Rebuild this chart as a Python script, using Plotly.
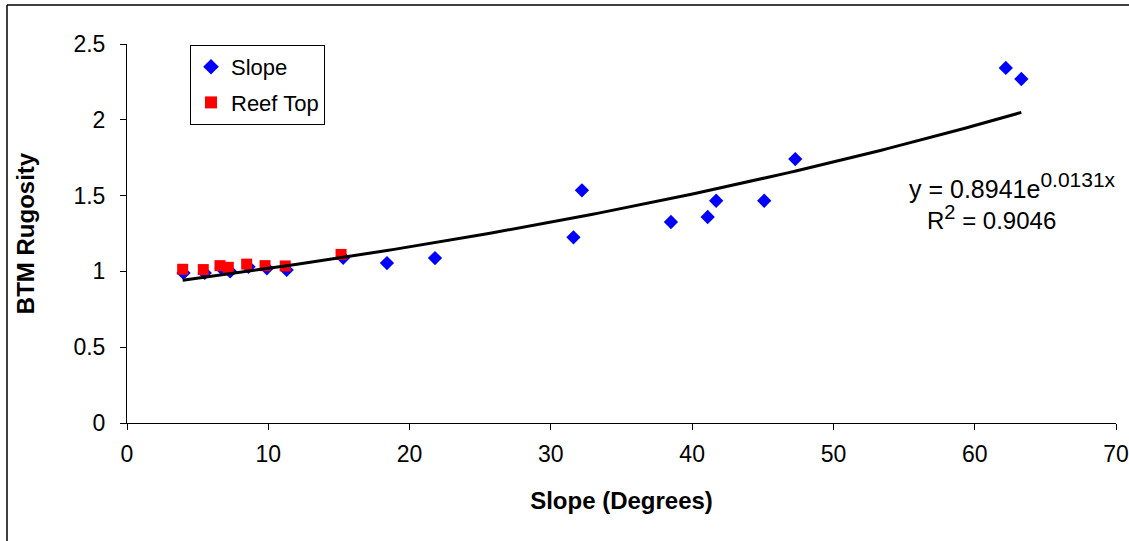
import numpy as np
import plotly.graph_objects as go

# Slope points (blue diamonds)
slope_x = [4.0, 5.5, 6.7, 7.3, 8.6, 9.9, 11.3, 15.3, 18.4, 21.8, 31.6, 32.2, 38.5, 41.1, 41.7, 45.1, 47.3, 62.2, 63.3]
slope_y = [0.99, 0.99, 1.02, 1.00, 1.03, 1.02, 1.01, 1.09, 1.055, 1.088, 1.225, 1.535, 1.326, 1.359, 1.466, 1.466, 1.741, 2.342, 2.269]

# Reef Top points (red squares)
reef_x = [3.94, 5.4, 6.58, 7.17, 8.47, 9.77, 11.2, 15.15]
reef_y = [1.014, 1.012, 1.038, 1.027, 1.048, 1.038, 1.036, 1.112]

# Exponential trendline parameters (as shown on the chart)
trend_a = 0.8941
trend_b = 0.0131
trend_r2 = 0.9046

all_x = slope_x + reef_x
tx = np.linspace(min(all_x), max(all_x), 120)
ty = trend_a * np.exp(trend_b * tx)

fig = go.Figure()
fig.add_trace(go.Scatter(x=slope_x, y=slope_y, mode="markers", name="Slope", legendgroup="a",
                         marker=dict(symbol="diamond", color="#0000FF", size=11, line=dict(width=0))))
fig.add_trace(go.Scatter(x=reef_x, y=reef_y, mode="markers", name="Reef Top", legendgroup="b",
                         marker=dict(symbol="square", color="#FF0000", size=11, line=dict(width=0))))
fig.add_trace(go.Scatter(x=tx, y=ty, mode="lines", showlegend=False,
                         line=dict(color="black", width=3), hoverinfo="skip"))

font = "Arial, Liberation Sans, sans-serif"

fig.update_layout(
    width=1129, height=541,
    margin=dict(l=127, r=13, t=44, b=118, autoexpand=False),
    paper_bgcolor="white", plot_bgcolor="white",
    font=dict(family=font, size=22, color="black"),
    showlegend=True,
    legend=dict(x=(190 - 127) / 989, y=(423 - 45) / 379, xanchor="left", yanchor="top",
                bordercolor="black", borderwidth=1, bgcolor="white",
                font=dict(size=22), itemsizing="constant", traceorder="grouped",
                tracegroupgap=4, itemwidth=30),
    xaxis=dict(range=[0, 70], tickmode="array", tickvals=list(range(0, 71, 10)),
               automargin=False,
               showgrid=False, zeroline=False, showline=True, linecolor="black", linewidth=1,
               ticks="outside", ticklen=6, tickcolor="black", ticklabelstandoff=4,
               title=dict(text="<b>Slope (Degrees)</b>", font=dict(size=24), standoff=26),
               tickfont=dict(size=23)),
    yaxis=dict(range=[0, 2.5], tickmode="array", tickvals=[0, 0.5, 1, 1.5, 2, 2.5],
               ticktext=["0", "0.5", "1", "1.5", "2", "2.5"],
               automargin=False,
               showgrid=False, zeroline=False, showline=True, linecolor="black", linewidth=1,
               ticks="outside", ticklen=6, tickcolor="black", ticklabelstandoff=10,
               title=dict(text="<b>BTM Rugosity</b>", font=dict(size=24), standoff=32),
               tickfont=dict(size=23)),
    annotations=[
        dict(x=(1118 - 127) / 989, y=(423 - 186) / 379, xref="paper", yref="paper",
             xanchor="right", yanchor="middle",
             text=f"y = {trend_a}e<sup><span style='font-size:21px'>{trend_b}x</span></sup>",
             showarrow=False, font=dict(size=25)),
        dict(x=(1058 - 127) / 989, y=(423 - 217) / 379, xref="paper", yref="paper",
             xanchor="right", yanchor="middle",
             text=f"R<sup><span style='font-size:20px'>2</span></sup> = {trend_r2}",
             showarrow=False, font=dict(size=24)),
    ],
    shapes=[
        dict(type="line", xref="paper", yref="paper", x0=(7 - 127) / 989, x1=(7 - 127) / 989,
             y0=(423 - 5) / 379, y1=(423 - 545) / 379, line=dict(color="black", width=1.5)),
        dict(type="line", xref="paper", yref="paper", x0=(7 - 127) / 989, x1=(1135 - 127) / 989,
             y0=(423 - 5) / 379, y1=(423 - 5) / 379, line=dict(color="black", width=1.5)),
    ],
)

fig.write_html("out.html")
